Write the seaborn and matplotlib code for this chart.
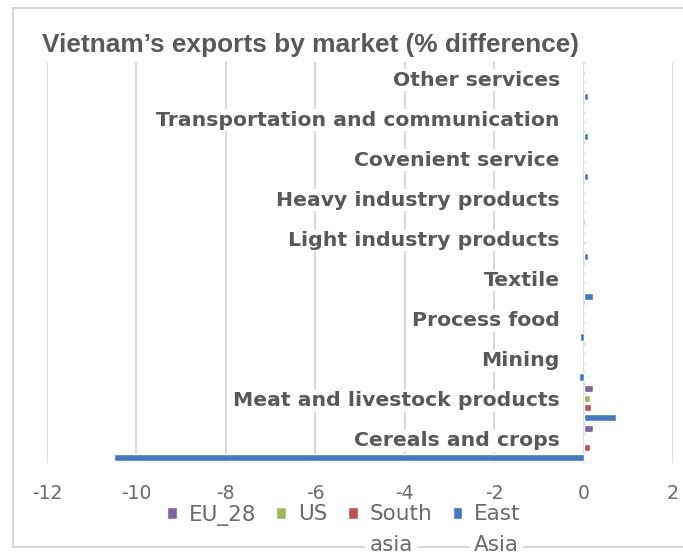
import matplotlib
matplotlib.use("Agg")
import matplotlib.pyplot as plt
from matplotlib.patches import Rectangle
import seaborn as sns
import pandas as pd

categories = ["Other services", "Transportation and communication", "Covenient service",
              "Heavy industry products", "Light industry products", "Textile",
              "Process food", "Mining", "Meat and livestock products", "Cereals and crops"]
markets = ["EU_28", "US", "South asia", "East Asia"]
legend_first = ["EU_28", "US", "South", "East"]
legend_second = ["", "", "asia", "Asia"]
eu_28 = [0, 0, 0, 0, 0, 0, 0.03, 0, 0.2, 0.2]
us = [0, 0, 0, 0, 0, 0, 0, 0, 0.15, 0]
south_asia = [0, 0, 0, 0, 0, 0, 0, 0, 0.17, 0.15]
east_asia = [0.1, 0.1, 0.1, 0, 0.1, 0.2, -0.07, -0.1, 0.72, -10.5]
x_ticks = [-12, -10, -8, -6, -4, -2, 0, 2]
colors = ["#8064A2", "#9BBB59", "#C0504D", "#4479C4"]

rows = []
for m, vals in zip(markets, [eu_28, us, south_asia, east_asia]):
    for c, v in zip(categories, vals):
        rows.append({"Category": c, "Market": m, "Value": v})
df = pd.DataFrame(rows)

sns.set_theme(style="white")
plt.rcParams["font.family"] = ["DejaVu Sans"]
plt.rcParams["axes.unicode_minus"] = False
gray = "#595959"
lgray = "#6a6a6a"

W, H = 683, 558
fig = plt.figure(figsize=(W / 100, H / 100), dpi=100)
ax = fig.add_axes([47 / W, 1 - 463 / H, (673 - 47) / W, (463 - 62) / H])

sns.barplot(data=df, y="Category", x="Value", hue="Market", order=categories,
            hue_order=markets, palette=colors, width=0.95, gap=0.25,
            orient="h", ax=ax, saturation=1)

handles, _ = ax.get_legend_handles_labels()
if ax.get_legend() is not None:
    ax.get_legend().remove()

ax.set_xlim(-12, 2)
ax.set_xticks(x_ticks)
ax.set_xticklabels([str(t) for t in x_ticks])
ax.set_yticks([])
ax.set_xlabel("")
ax.set_ylabel("")
ax.set_axisbelow(True)
ax.grid(axis="x", color="#d9d9d9", linewidth=1.5)
ax.grid(axis="y", visible=False)
for s in ax.spines.values():
    s.set_visible(False)
ax.tick_params(axis="x", length=0, pad=15, labelsize=13.5, labelcolor=lgray)

for i, c in enumerate(categories):
    ax.text(-0.53, i - 0.05, c, ha="right", va="center", fontsize=14.7,
            fontweight="bold", color=gray, zorder=5,
            bbox=dict(facecolor="white", edgecolor="none", pad=1.0))

fig.text(42 / W, 1 - 45 / H, "Vietnam\u2019s exports by market (% difference)",
         fontsize=18.9, fontweight="bold", color=gray, va="center", ha="left",
         family=["Liberation Sans", "DejaVu Sans"])

# outer chart border
fig.patches.append(Rectangle((13 / W, 1 - 547 / H), (700 - 13) / W, (547 - 8) / H,
                             transform=fig.transFigure, fill=False,
                             edgecolor="#d0d0d0", linewidth=1.2, zorder=0))

leg = fig.legend(handles, legend_first, loc="center left",
                 bbox_to_anchor=(167 / W, 1 - 515 / H), ncol=4, frameon=False,
                 fontsize=15.5, labelcolor=lgray, handlelength=0.45, handleheight=0.45,
                 handletextpad=0.55, columnspacing=0.95, borderpad=0, borderaxespad=0)

fig.canvas.draw()
renderer = fig.canvas.get_renderer()
for t, second in zip(leg.get_texts(), legend_second):
    if not second:
        continue
    bb = t.get_window_extent(renderer)
    fig.text(bb.x0 / W, 1 - 545 / H, second, fontsize=15.5, color=lgray,
             ha="left", va="center", zorder=6,
             bbox=dict(facecolor="white", edgecolor="none", pad=3))

fig.savefig("out.png", dpi=100, facecolor="white")
